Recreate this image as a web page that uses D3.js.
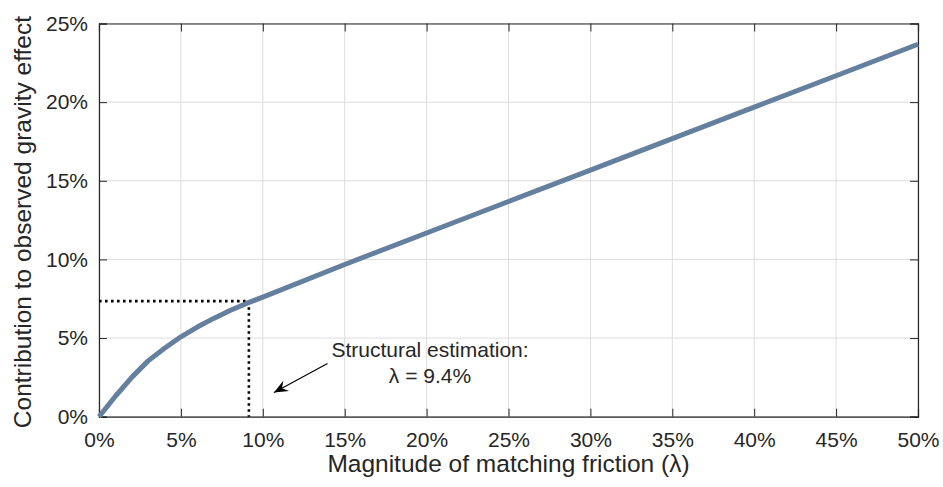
<!DOCTYPE html>
<html><head><meta charset="utf-8">
<script src="https://cdn.jsdelivr.net/npm/d3@7"></script>
<style>body{margin:0;background:#fff}svg{display:block}text{font-family:"Liberation Sans",Arial,sans-serif;fill:#262626}</style>
</head><body><svg id="c" width="943" height="487"></svg>
<script>
const lambda = [0,1,2,3,4,5,6,7,8,9,10,15,20,25,30,35,40,45,50];
const contribution = [0,1.3,2.5,3.55,4.35,5.08,5.7,6.25,6.75,7.2,7.6,9.68,11.68,13.68,15.68,17.68,19.68,21.68,23.68];
const xTicks = [0,5,10,15,20,25,30,35,40,45,50];
const yTicks = [0,5,10,15,20,25];
const marker = {x:9.15, y:7.35};
const annotation = ["Structural estimation:", "\u03bb = 9.4%"];
const xTitle = "Magnitude of matching friction (\u03bb)";
const yTitle = "Contribution to observed gravity effect";

const svg = d3.select("#c");
const L=99,R=918,T=23.5,B=416.7;
const x = d3.scaleLinear().domain([0,50]).range([L,R]);
const y = d3.scaleLinear().domain([0,25]).range([B,T]);
const g = svg.append("g");
// grid
g.selectAll(".gx").data(xTicks).join("line").attr("x1",d=>x(d)).attr("x2",d=>x(d)).attr("y1",T).attr("y2",B).attr("stroke","#dcdcdc").attr("stroke-width",1);
g.selectAll(".gy").data(yTicks).join("line").attr("y1",d=>y(d)).attr("y2",d=>y(d)).attr("x1",L).attr("x2",R).attr("stroke","#dcdcdc").attr("stroke-width",1);
// axes with inward ticks
const tk=8;
const ax = d3.axisBottom(x).tickValues(xTicks).tickSize(-tk).tickPadding(15).tickFormat(d=>d+"%");
const ay = d3.axisLeft(y).tickValues(yTicks).tickSize(-tk).tickPadding(11).tickFormat(d=>d+"%");
const gx = svg.append("g").attr("transform",`translate(0,${B})`).call(ax);
const gy = svg.append("g").attr("transform",`translate(${L},0)`).call(ay);
svg.append("g").attr("transform",`translate(0,${T})`).call(d3.axisTop(x).tickValues(xTicks).tickSize(-tk).tickFormat(""));
svg.append("g").attr("transform",`translate(${R},0)`).call(d3.axisRight(y).tickValues(yTicks).tickSize(-tk).tickFormat(""));
svg.selectAll(".domain").attr("stroke","#262626").attr("stroke-width",1.2);
svg.selectAll(".tick line").attr("stroke","#262626").attr("stroke-width",1);
gx.selectAll("text").attr("font-size",21).attr("fill","#262626").attr("font-family","Liberation Sans, Arial, sans-serif");
gy.selectAll("text").attr("font-size",21).attr("fill","#262626").attr("font-family","Liberation Sans, Arial, sans-serif");
// dotted marker lines
svg.append("path").attr("d",`M${x(0)},${y(marker.y)}H${x(marker.x)}V${y(0)}`).attr("fill","none").attr("stroke","#000").attr("stroke-width",2.6).attr("stroke-dasharray","2.6,3.4");
// curve
svg.append("path").datum(lambda.map((l,i)=>[l,contribution[i]])).attr("d",d3.line().x(d=>x(d[0])).y(d=>y(d[1]))).attr("fill","none").attr("stroke","#64809e").attr("stroke-width",5).attr("stroke-linejoin","round");
// annotation
svg.append("text").attr("x",430).attr("y",357).attr("text-anchor","middle").attr("font-size",21).text(annotation[0]).attr("fill","#000");
svg.append("text").attr("x",430).attr("y",383).attr("text-anchor","middle").attr("font-size",21).text(annotation[1]).attr("fill","#000");
// arrow
const x1=327.5,y1=363.5,x2=274,y2=392.5;
svg.append("line").attr("x1",x1).attr("y1",y1).attr("x2",x2).attr("y2",y2).attr("stroke","#000").attr("stroke-width",1.2);
const ang=Math.atan2(y2-y1,x2-x1);
const hl=14, hw=6, back=9;
const px=-Math.sin(ang), py=Math.cos(ang);
const bx=x2-hl*Math.cos(ang), by=y2-hl*Math.sin(ang);
const cx=x2-back*Math.cos(ang), cy=y2-back*Math.sin(ang);
svg.append("path").attr("d",`M${x2},${y2}L${bx+hw*px},${by+hw*py}L${cx},${cy}L${bx-hw*px},${by-hw*py}Z`).attr("fill","#000");
// titles
svg.append("text").attr("x",(L+R)/2).attr("y",472).attr("text-anchor","middle").attr("font-size",24.5).text(xTitle);
svg.append("text").attr("transform",`translate(31,${(T+B)/2+2}) rotate(-90)`).attr("text-anchor","middle").attr("font-size",24.5).text(yTitle);
</script></body></html>
